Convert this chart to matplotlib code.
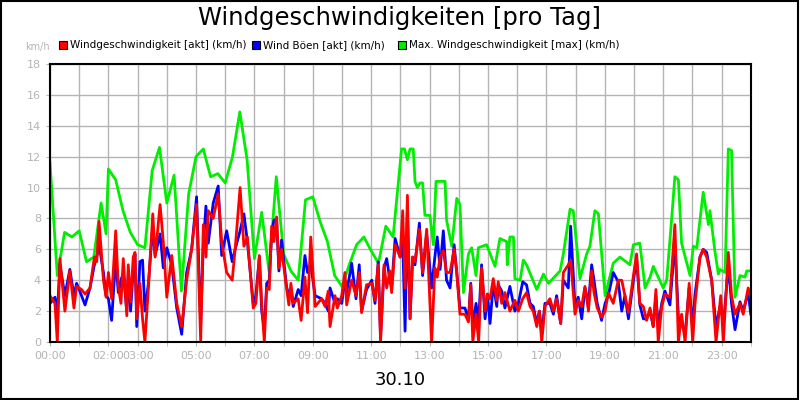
import numpy as np
import matplotlib.pyplot as plt
from matplotlib.patches import Rectangle

# Hour positions on the axis and their labels (30.10 -> DST day, 02:00 repeated)
tick_hours = [0, 2, 3, 5, 7, 9, 11, 13, 15, 17, 19, 21, 23]
tick_labels = ['00:00', '02:00', '03:00', '05:00', '07:00', '09:00', '11:00',
               '13:00', '15:00', '17:00', '19:00', '21:00', '23:00']

# Time positions (hours) for current wind and gusts
akt_t = [0, .17, .25, .34, .51, .68, .82, .91, 1.08, 1.2, 1.37, 1.52, 1.6, 1.68, 1.83, 1.92,
         2.0, 2.11, 2.25, 2.34, 2.43, 2.51, 2.63, 2.68, 2.76, 2.85, 2.91, 2.97, 3.08, 3.17, 3.25,
         3.37, 3.52, 3.6, 3.77, 3.88, 4.0, 4.17, 4.34, 4.51, 4.68, 4.85, 5.02, 5.16, 5.25, 5.34,
         5.42, 5.59, 5.76, 5.88, 6.05, 6.24, 6.34, 6.51, 6.64, 6.76, 6.96, 7.05, 7.17, 7.25, 7.34,
         7.42, 7.51, 7.59, 7.67, 7.76, 7.84, 7.93, 8.1, 8.18, 8.25, 8.33, 8.5, 8.6, 8.73, 8.82,
         8.93, 9.08, 9.3, 9.42, 9.53, 9.59, 9.76, 9.84, 9.99, 10.1, 10.16, 10.33, 10.48, 10.59,
         10.67, 10.84, 11.02, 11.13, 11.24, 11.32, 11.44, 11.53, 11.64, 11.7, 11.82, 11.99,
         12.08, 12.16, 12.24, 12.33, 12.42, 12.5, 12.65, 12.76, 12.9, 13.07, 13.18, 13.26, 13.36,
         13.47, 13.58, 13.7, 13.84, 13.93, 14.04, 14.21, 14.33, 14.41, 14.48, 14.59, 14.68, 14.78,
         14.9, 14.98, 15.07, 15.18, 15.3, 15.35, 15.47, 15.58, 15.75, 15.92, 16.04, 16.19, 16.32,
         16.44, 16.55, 16.67, 16.76, 16.84, 16.95, 17.12, 17.24, 17.35, 17.49, 17.58, 17.75, 17.83,
         17.98, 18.09, 18.21, 18.32, 18.44, 18.55, 18.63, 18.74, 18.89, 19.01, 19.12, 19.29, 19.46,
         19.58, 19.69, 19.81, 19.98, 20.09, 20.2, 20.32, 20.43, 20.55, 20.66, 20.75, 20.83, 20.95,
         21.06, 21.23, 21.4, 21.52, 21.63, 21.75, 21.89, 22.01, 22.09, 22.26, 22.37, 22.49, 22.66,
         22.81, 22.97, 23.06, 23.23, 23.34, 23.46, 23.63, 23.74, 23.91, 24]

# Windgeschwindigkeit [akt] (km/h)
wind_akt = [3.0, 2.5, 0, 5.4, 2.0, 4.6, 2.2, 3.6, 3.4, 3.1, 3.5, 5.5, 5.2, 7.8, 4.0, 2.9,
            4.5, 2.8, 7.2, 3.6, 2.5, 5.4, 1.7, 5.0, 2.6, 5.5, 5.8, 1.5, 3.8, 1.5, 0,
            3.5, 8.3, 5.5, 8.9, 6.5, 2.9, 5.6, 2.5, 1.0, 4.0, 6.0, 8.9, 0, 7.6, 5.5,
            8.5, 8.0, 9.6, 6.5, 4.5, 4.0, 6.0, 10.0, 6.2, 6.8, 2.2, 2.5, 5.6, 2.5, 0,
            3.5, 3.4, 7.5, 6.5, 8.1, 4.8, 6.0, 3.5, 2.4, 3.8, 2.5, 2.8, 1.4, 4.2, 1.9,
            6.8, 2.3, 2.8, 2.3, 3.3, 1.0, 3.0, 2.2, 3.0, 4.5, 2.4, 4.0, 3.0, 4.5,
            1.9, 3.7, 3.8, 2.7, 5.0, 0, 5.0, 3.5, 4.6, 3.2, 6.3, 5.5,
            8.5, 3.5, 9.5, 1.5, 5.5, 5.2, 7.3, 4.5, 7.3, 0, 4.8, 4.2, 5.5,
            5.9, 4.5, 4.5, 6.0, 4.5, 1.8, 1.8, 1.3, 3.7, 0, 1.8, 0, 4.8,
            2.0, 3.1, 2.8, 4.1, 2.7, 3.9, 2.5, 3.2, 2.0, 2.7, 2.0, 2.8, 3.2,
            2.3, 2.0, 1.0, 2.0, 0, 2.3, 2.8, 2.0, 2.8, 1.2, 4.5, 5.0, 5.3,
            1.8, 2.7, 2.3, 3.6, 2.0, 4.6, 3.2, 2.2, 1.6, 2.0, 3.2, 2.5, 4.0,
            4.0, 3.0, 1.9, 4.3, 5.7, 2.5, 2.3, 1.4, 2.2, 1.0, 3.4, 0, 2.3,
            3.1, 2.9, 7.6, 0, 1.8, 0, 3.8, 0, 2.5, 5.5, 6.0, 5.5, 4.0,
            0, 3.0, 0, 5.8, 3.0, 1.8, 2.5, 1.8, 3.5, 2.9]

# Wind Böen [akt] (km/h)
boeen_akt = [2.5, 2.9, 1.8, 5.0, 3.0, 4.7, 3.0, 3.8, 3.0, 2.4, 3.5, 5.0, 5.5, 6.3, 4.5, 3.0,
             2.8, 1.4, 5.4, 3.2, 4.0, 4.5, 2.0, 4.5, 2.0, 4.7, 5.7, 1.0, 5.2, 5.3, 2.0,
             3.8, 7.5, 5.6, 7.0, 4.8, 6.1, 5.0, 2.2, 0.5, 4.5, 6.0, 9.4, 1.2, 6.2, 8.8,
             6.4, 9.0, 10.1, 5.6, 7.2, 5.2, 6.0, 7.2, 8.3, 6.5, 2.5, 3.0, 5.5, 2.0, 0.8,
             3.8, 4.0, 7.0, 7.9, 7.9, 4.6, 6.6, 3.6, 3.0, 3.4, 2.3, 3.4, 3.0, 5.6, 4.5,
             5.0, 3.0, 2.8, 2.5, 2.0, 3.5, 2.5, 2.8, 2.5, 4.0, 3.2, 5.1, 2.8, 5.0,
             2.0, 3.4, 4.0, 2.5, 5.2, 0.3, 4.8, 5.4, 4.0, 3.5, 6.7, 5.5,
             6.5, 0.7, 8.5, 1.5, 5.5, 5.0, 7.7, 4.3, 7.0, 3.5, 5.5, 6.8, 4.7,
             7.2, 4.0, 3.5, 6.3, 4.5, 2.2, 2.2, 1.5, 3.8, 1.0, 2.5, 1.3, 5.0,
             1.5, 3.1, 1.2, 3.8, 2.3, 3.7, 3.3, 2.2, 3.6, 2.0, 2.5, 3.9, 3.7,
             2.5, 2.3, 1.2, 2.0, 0.5, 2.5, 2.5, 1.8, 3.0, 1.2, 4.0, 3.5, 7.5,
             2.3, 2.9, 1.5, 3.5, 2.5, 5.0, 4.0, 2.5, 1.4, 2.5, 3.0, 4.5, 3.9,
             2.0, 3.0, 1.5, 4.0, 5.4, 2.4, 1.5, 1.5, 2.0, 1.0, 3.0, 1.0, 2.5,
             3.3, 2.4, 6.5, 1.6, 1.2, 0.5, 3.5, 1.0, 3.1, 5.5, 6.0, 5.8, 4.0,
             1.0, 2.5, 1.0, 5.0, 2.5, 0.8, 2.6, 2.0, 3.2, 1.8]

# Max. Windgeschwindigkeit [max] (km/h)
max_t = [0, .25, .5, .75, 1.0, 1.25, 1.5, 1.75, 1.92, 2.0, 2.25, 2.5, 2.75, 3.0, 3.25,
         3.5, 3.75, 4.0, 4.25, 4.5, 4.75, 5.0, 5.25, 5.5, 5.75, 6.0, 6.25, 6.5, 6.75, 7.0,
         7.25, 7.5, 7.75, 8.0, 8.25, 8.5, 8.75, 9.0, 9.25, 9.5, 9.75, 10.0, 10.25, 10.5,
         10.75, 11.0, 11.25, 11.5, 11.75, 12.04, 12.14, 12.24, 12.33, 12.44, 12.5, 12.58,
         12.67, 12.76, 12.84, 13.01, 13.13, 13.22, 13.53, 13.58, 13.76, 13.93, 14.04, 14.16,
         14.33, 14.44, 14.59, 14.67, 14.95, 15.24, 15.41, 15.64, 15.66, 15.75, 15.87, 15.92,
         16.1, 16.21, 16.32, 16.67, 16.9, 17.07, 17.47, 17.58, 17.81, 17.92, 18.15, 18.38,
         18.49, 18.66, 18.78, 19.01, 19.29, 19.52, 19.86, 19.98, 20.2, 20.38, 20.55, 20.66,
         21.0, 21.12, 21.29, 21.4, 21.52, 21.63, 21.92, 22.03, 22.15, 22.37, 22.55, 22.6,
         22.77, 22.89, 22.94, 23.12, 23.23, 23.34, 23.46, 23.63, 23.8, 23.86, 24]
max_v = [11.6, 4.3, 7.1, 6.8, 7.2, 5.2, 5.5, 9.0, 7.0, 11.2, 10.5, 8.5, 7.1, 6.3, 6.1,
         11.1, 12.6, 9.0, 10.8, 3.3, 9.6, 12.0, 12.5, 10.7, 10.9, 10.3, 12.0, 14.9, 11.8, 5.4,
         8.4, 4.6, 10.7, 5.7, 4.6, 4.0, 9.2, 9.4, 7.8, 6.5, 4.3, 3.6, 5.0, 6.3,
         6.8, 5.9, 5.1, 7.5, 6.8, 12.5, 12.5, 11.8, 12.5, 12.5, 10.4, 10.0,
         10.3, 10.3, 8.2, 8.2, 6.3, 10.4, 10.4, 7.9, 6.2, 9.3, 8.9, 3.2,
         5.7, 6.1, 4.3, 6.1, 6.3, 4.9, 6.7, 6.5, 5.0, 6.8, 6.8, 4.1,
         4.0, 5.3, 5.0, 3.4, 4.4, 3.8, 4.6, 5.7, 8.6, 8.5, 4.1, 5.7,
         6.2, 8.5, 8.3, 3.0, 5.1, 5.5, 5.0, 6.3, 6.4, 3.5, 4.2, 4.9,
         3.5, 4.0, 8.0, 10.7, 10.5, 6.4, 4.3, 6.2, 6.1, 9.7, 7.6, 8.5,
         5.9, 4.4, 4.7, 4.5, 12.5, 12.4, 2.9, 4.3, 4.2, 4.6, 4.6]

grey = '#b4b4b4'

fig = plt.figure(figsize=(8, 4), dpi=100)
fig.patches.append(Rectangle((0.001, 0.002), 0.997, 0.995, transform=fig.transFigure,
                             fill=False, edgecolor='black', linewidth=1.5))

ax = fig.add_axes([0.0625, 0.145, 0.876, 0.695])
ax.plot(max_t, max_v, color='#00ee00', linewidth=2)
ax.plot(akt_t, boeen_akt, color='#0000ff', linewidth=2)
ax.plot(akt_t, wind_akt, color='#ff0000', linewidth=2)

ax.set_xlim(0, 24)
ax.set_ylim(0, 18)
ax.set_xticks(range(25), minor=True)
ax.set_xticks(tick_hours)
ax.set_xticklabels(tick_labels)
ax.set_yticks(range(0, 19, 2))
ax.grid(True, which='both', color=grey, linewidth=1)
ax.tick_params(axis='both', which='both', colors=grey, labelsize=8, length=3)
for s in ax.spines.values():
    s.set_color('black')
    s.set_linewidth(1.5)

fig.text(0.5, 0.955, 'Windgeschwindigkeiten [pro Tag]', ha='center', va='center', fontsize=17.5)
fig.text(0.5, 0.05, '30.10', ha='center', va='center', fontsize=13)
fig.text(0.032, 0.883, 'km/h', ha='left', va='center', fontsize=7, color=grey)

# legend row
legend_items = [('Windgeschwindigkeit [akt] (km/h)', '#ff0000', 0.074),
                ('Wind Böen [akt] (km/h)', '#0000ff', 0.315),
                ('Max. Windgeschwindigkeit [max] (km/h)', '#00ee00', 0.497)]
for label, col, x in legend_items:
    fig.patches.append(Rectangle((x, 0.878), 0.01, 0.02, transform=fig.transFigure,
                                 facecolor=col, edgecolor='black', linewidth=0.8))
    fig.text(x + 0.014, 0.888, label, ha='left', va='center', fontsize=7.5)

assert len(akt_t) == len(wind_akt) == len(boeen_akt)
assert len(max_t) == len(max_v)
fig.savefig('out.png', dpi=100)
